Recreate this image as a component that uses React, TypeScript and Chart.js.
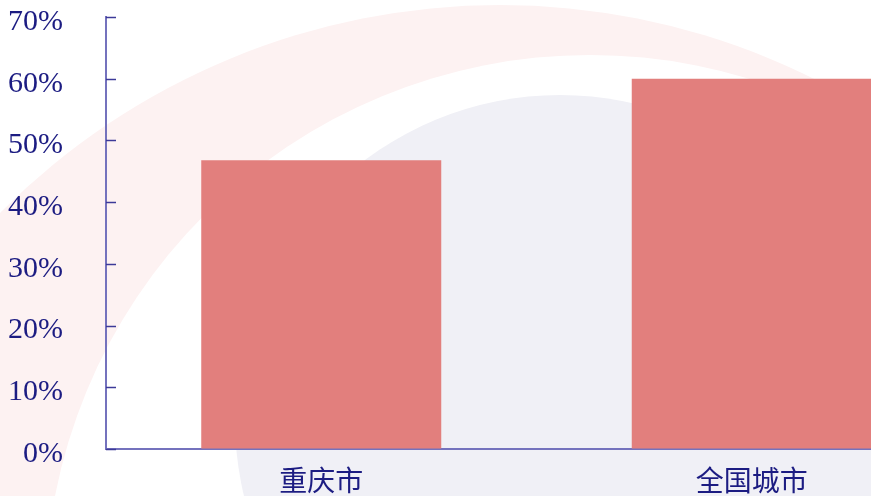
import React, { useEffect, useRef } from "react";
import { Chart, registerables } from "chart.js";

Chart.register(...registerables);

const categories = ["重庆市", "全国城市"];
const values = [46.8, 60];
const yTicks = [0, 10, 20, 30, 40, 50, 60, 70];

const NAVY = "#1c1c82";
const AXIS = "#7472bd";
const BAR = "#e27f7d";

const bgPlugin = {
  id: "bgWatermark",
  beforeDraw(chart: any) {
    const ctx = chart.ctx as CanvasRenderingContext2D;
    ctx.save();
    ctx.fillStyle = "#ffffff";
    ctx.fillRect(0, 0, chart.width, chart.height);
    // faint pink crescent
    ctx.fillStyle = "rgb(253,242,242)";
    ctx.beginPath();
    ctx.arc(500, 710, 705, 0, Math.PI * 2);
    ctx.fill();
    ctx.fillStyle = "#ffffff";
    ctx.beginPath();
    ctx.arc(590, 600, 545, 0, Math.PI * 2);
    ctx.fill();
    // lavender disc
    ctx.fillStyle = "rgb(240,240,246)";
    ctx.beginPath();
    ctx.arc(560, 420, 325, 0, Math.PI * 2);
    ctx.fill();
    ctx.restore();
  },
};

const innerTicks = {
  id: "innerTicks",
  afterDraw(chart: any) {
    const y = chart.scales.y;
    const ctx = chart.ctx as CanvasRenderingContext2D;
    ctx.save();
    ctx.strokeStyle = "#3c3a98";
    ctx.lineWidth = 1.5;
    y.ticks.forEach((t: any) => {
      const py = Math.round(y.getPixelForValue(t.value)) + 0.5;
      ctx.beginPath();
      ctx.moveTo(y.right, py);
      ctx.lineTo(y.right + 10, py);
      ctx.stroke();
    });
    ctx.restore();
  },
};

export default function App() {
  const ref = useRef<HTMLCanvasElement>(null);
  useEffect(() => {
    if (!ref.current) return;
    const chart = new Chart(ref.current, {
      type: "bar",
      data: {
        labels: categories,
        datasets: [
          {
            data: values,
            backgroundColor: BAR,
            borderWidth: 0,
            categoryPercentage: 1,
            barPercentage: 0.5575,
          },
        ],
      },
      options: {
        animation: false,
        responsive: false,
        maintainAspectRatio: false,
        layout: { padding: { left: 0, right: 0, top: 0, bottom: 0 } },
        plugins: {
          legend: { display: false },
          tooltip: { enabled: false },
        },
        scales: {
          x: {
            offset: true,
            grid: { display: true, drawOnChartArea: false, drawTicks: false },
            border: { color: AXIS, width: 2 },
            ticks: {
              color: NAVY,
              padding: 18,
              font: { family: "'Liberation Serif', 'Noto Sans CJK SC'", size: 28 },
            },
            afterFit(scale: any) {
              scale.height = 47;
              scale.paddingLeft = 0;
              scale.paddingRight = 0;
            },
          },
          y: {
            min: yTicks[0],
            max: yTicks[yTicks.length - 1],
            afterBuildTicks(scale: any) {
              scale.ticks = yTicks.map((v) => ({ value: v }));
            },
            grid: { display: true, drawOnChartArea: false, drawTicks: false },
            border: { color: AXIS, width: 2 },
            ticks: {
              color: NAVY,
              padding: 43,
              labelOffset: 5,
              font: { family: "'Liberation Serif'", size: 30 },
              callback: (v: any) => `${v}%`,
            },
            afterFit(scale: any) {
              scale.width = 106;
              scale.paddingTop = 17;
              scale.paddingBottom = 0;
            },
          },
        },
      },
      plugins: [bgPlugin, innerTicks],
    });
    return () => chart.destroy();
  }, []);
  return (
    <div
      style={{
        position: "fixed",
        left: 0,
        top: 0,
        width: 871,
        height: 496,
        overflow: "hidden",
        background: "#fff",
      }}
    >
      <canvas ref={ref} width={967} height={496} style={{ width: 967, height: 496, display: "block" }} />
    </div>
  );
}
